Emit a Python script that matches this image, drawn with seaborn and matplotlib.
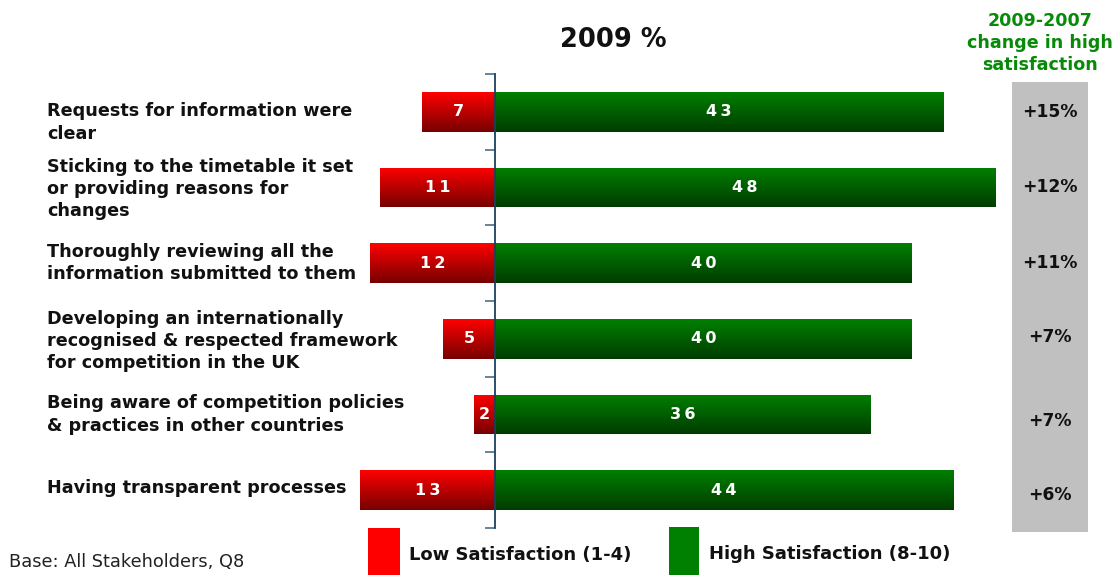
import numpy as np
import pandas as pd
import matplotlib
matplotlib.use("Agg")
import matplotlib.pyplot as plt
import seaborn as sns
from matplotlib.colors import LinearSegmentedColormap
from matplotlib.patches import Rectangle
from matplotlib.transforms import blended_transform_factory

categories = [
    "Requests for information were\nclear",
    "Sticking to the timetable it set\nor providing reasons for\nchanges",
    "Thoroughly reviewing all the\ninformation submitted to them",
    "Developing an internationally\nrecognised & respected framework\nfor competition in the UK",
    "Being aware of competition policies\n& practices in other countries",
    "Having transparent processes",
]
low_values = [7, 11, 12, 5, 2, 13]
high_values = [43, 48, 40, 40, 36, 44]
change_labels = ["+15%", "+12%", "+11%", "+7%", "+7%", "+6%"]

title = "2009 %"
change_header = "2009-2007\nchange in high\nsatisfaction"
low_legend = "Low Satisfaction (1-4)"
high_legend = "High Satisfaction (8-10)"
base_note = "Base: All Stakeholders, Q8"

sns.set_theme(style="white")
plt.rcParams["font.family"] = ["DejaVu Sans"]

W, H = 1113, 575
fig = plt.figure(figsize=(W / 100, H / 100), dpi=100)
fig.patch.set_facecolor("white")

# axes placement in pixels
px_left, px_right, px_top, px_bottom = 300, 1000, 74, 528
ax = fig.add_axes([px_left / W, 1 - px_bottom / H, (px_right - px_left) / W, (px_bottom - px_top) / H])
scale = 10.42
x0px = 495
xlim = ((px_left - x0px) / scale, (px_right - x0px) / scale)

df = pd.DataFrame({"cat": categories, "low": [-v for v in low_values], "high": high_values})
sns.barplot(data=df, x="high", y="cat", orient="h", color="green", width=0.52, ax=ax)
sns.barplot(data=df, x="low", y="cat", orient="h", color="red", width=0.52, ax=ax)

high_patches = ax.patches[:6]
low_patches = ax.patches[6:12]


def gradient_fill(patch, top, bottom):
    x, y = patch.get_x(), patch.get_y()
    w, h = patch.get_width(), patch.get_height()
    grad = np.linspace(0, 1, 256).reshape(-1, 1)
    cmap = LinearSegmentedColormap.from_list("g", [top, bottom])
    im = ax.imshow(grad, cmap=cmap, aspect="auto", extent=[x, x + w, y + h, y],
                   origin="upper", zorder=2, interpolation="bilinear")
    im.set_clip_path(patch)
    patch.set_facecolor("none")
    patch.set_edgecolor("none")


for p in high_patches:
    gradient_fill(p, "#008000", "#003c00")
for p in low_patches:
    gradient_fill(p, "#ff0000", "#760000")

ax.set_xlim(*xlim)
ax.set_ylim(5.5, -0.5)
ax.set_yticks(np.arange(-0.5, 6, 1))
ax.set_yticklabels([])
ax.set_xticks([])
ax.set_xlabel("")
ax.set_ylabel("")
for s in ["top", "right", "bottom"]:
    ax.spines[s].set_visible(False)
ax.spines["left"].set_position(("data", 0))
ax.spines["left"].set_color("#1d3f5e")
ax.spines["left"].set_linewidth(1.3)
ax.spines["left"].set_zorder(5)
ax.tick_params(axis="y", which="both", left=True, length=7, width=1.3, color="#5b7a8c", direction="out")
ax.patch.set_alpha(0)

# value labels (slightly letter-spaced as in the original)
def spaced(v):
    return "\u2009".join(str(v))

for i, (lv, hv) in enumerate(zip(low_values, high_values)):
    ax.text(hv / 2, i, spaced(hv), color="white", fontsize=11.5, fontweight="bold",
            ha="center", va="center", zorder=6)
    ax.text(-lv / 2, i, spaced(lv), color="white", fontsize=11.5, fontweight="bold",
            ha="center", va="center", zorder=6)

# category labels
tr = blended_transform_factory(fig.transFigure, ax.transData)
label_offsets = [0.14, 0.02, 0.0, 0.03, 0.0, -0.03]
for i, c in enumerate(categories):
    fig.text(47 / W, i + label_offsets[i], c, transform=tr, fontsize=12.7, fontweight="bold",
             ha="left", va="center", linespacing=1.3, color="#111111")

# right grey box
fig.patches.append(Rectangle((1012 / W, 1 - 532 / H), (1088 - 1012) / W, (532 - 82) / H,
                             transform=fig.transFigure, facecolor="#c0c0c0", edgecolor="none", zorder=0))
change_offsets = [0.0, 0.0, 0.0, -0.03, 0.08, 0.06]
for i, t in enumerate(change_labels):
    fig.text(1050 / W, i + change_offsets[i], t, transform=tr, fontsize=12.3, fontweight="bold",
             ha="center", va="center", color="#111111")

fig.text(1040 / W, 1 - 43 / H, change_header, fontsize=12.6, fontweight="bold", color="#078a07",
         ha="center", va="center", linespacing=1.25)

fig.text(613 / W, 1 - 40 / H, title, fontsize=18.5, fontweight="bold", ha="center", va="center",
         color="#111111")

# legend
fig.patches.append(Rectangle((368 / W, 0), 32 / W, 47 / H, transform=fig.transFigure,
                             facecolor="#ff0000", edgecolor="none"))
fig.patches.append(Rectangle((669 / W, 0), 30 / W, 48 / H, transform=fig.transFigure,
                             facecolor="#008000", edgecolor="none"))
fig.text(409 / W, 1 - 555 / H, low_legend, fontsize=13, fontweight="bold", ha="left", va="center",
         color="#111111")
fig.text(709 / W, 1 - 554 / H, high_legend, fontsize=13, fontweight="bold", ha="left", va="center",
         color="#111111")
fig.text(9 / W, 1 - 562 / H, base_note, fontsize=12.8, ha="left", va="center",
         color="#222222")

fig.savefig("out.png", dpi=100)
